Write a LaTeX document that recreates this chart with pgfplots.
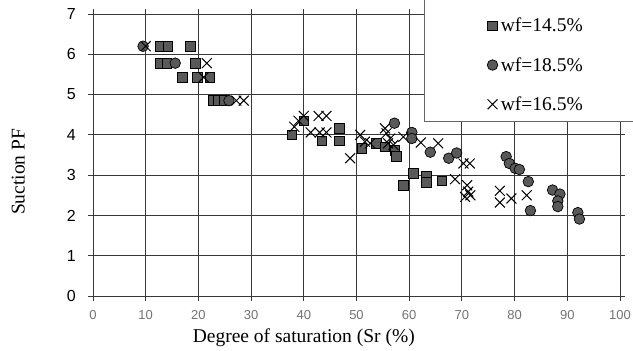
\documentclass[border=0pt]{standalone}
\usepackage{fontspec}
\setmainfont{Liberation Serif}
\setsansfont{Liberation Sans}
\usepackage{pgfplots}
\pgfplotsset{compat=1.18}

\begin{document}
\begin{tikzpicture}
\begin{axis}[
 scale only axis, width=527pt, height=282pt,
 xmin=0, xmax=100, ymin=0, ymax=7,
 xtick={0,10,...,100}, ytick={0,1,...,7},
 clip=false,
 grid=major,
 major grid style={draw=black!78, line width=0.8pt},
 axis line style={draw=black!78, line width=0.8pt},
 tick style={draw=black!78, line width=0.8pt},
 tick align=outside, major tick length=5pt,
 /pgf/number format/assume math mode=true,
 xticklabel style={font=\sffamily\fontsize{13}{13}\selectfont, text=black!55, anchor=center, inner sep=0pt, yshift=-14pt},
 yticklabel style={font=\sffamily\fontsize{16}{16}\selectfont, anchor=east, inner sep=0pt, xshift=-12pt},
 xlabel={Degree of saturation (Sr (\%)},
 ylabel={Suction PF},
 xlabel style={font=\fontsize{19.5}{20}\selectfont, at={(axis description cs:0.4,-0.149)}, anchor=center},
 ylabel style={font=\fontsize{19.5}{20}\selectfont, at={(axis description cs:-0.142,0.44)}, anchor=center},
 legend style={at={(axis description cs:0.742,0.9965)}, anchor=north west, draw=none, fill=none,
   font=\fontsize{19.5}{20}\selectfont, row sep=22pt, nodes={inner sep=1pt},
   /tikz/every odd column/.append style={column sep=2pt}},
 legend image code/.code={\draw[#1] plot coordinates {(0pt,0pt)};},
 legend cell align=left,
]
\addplot[only marks, mark=square*, mark size=4.8pt, mark options={draw=black, fill=black!65, line width=0.7pt}] coordinates {
(12.7,6.2)(14.2,6.2)(18.5,6.2)
(12.7,5.78)(14,5.78)(19.4,5.78)
(17,5.43)(19.8,5.43)(22.2,5.43)
(22.8,4.85)(23.8,4.85)(24.8,4.85)
(37.7,4.0)(40,4.35)(43.4,3.85)(46.7,4.16)(46.7,3.85)
(51,3.66)(53.8,3.79)(55.4,3.7)(57.3,3.62)(57.6,3.46)
(58.9,2.75)(60.8,3.04)(63.3,2.98)(63.3,2.82)(66.2,2.86)
};
\addlegendentry{wf=14.5\%}
\addplot[only marks, mark=*, mark size=5.3pt, mark options={draw=black, fill=black!65, line width=0.7pt}] coordinates {
(9.5,6.2)(15.6,5.78)(25.8,4.85)(57.2,4.29)(60.5,4.06)(60.5,3.91)(64,3.57)(67.5,3.42)(69,3.55)
(78.4,3.46)(79,3.29)(80.1,3.17)(80.9,3.14)(82.6,2.84)(83,2.12)(87.2,2.63)(88.6,2.53)(88.2,2.36)(88.2,2.22)
(92,2.07)(92.3,1.91)
};
\addlegendentry{wf=18.5\%}
\addplot[only marks, mark=x, mark size=7pt, mark options={draw=black, line width=1pt}] coordinates {
(10,6.2)(21.6,5.78)(21,5.43)(27.2,4.85)(28.6,4.85)
(38.2,4.2)(39,4.35)(40,4.47)(42.8,4.47)(44.3,4.47)(41.3,4.06)(43,4.06)(44.3,4.06)(48.8,3.42)
(50.7,4.0)(51.6,3.83)(52.6,3.79)(55.4,4.16)(55.7,4.04)(56.4,3.91)(56,3.79)(57,3.75)(58.9,3.95)
(62.2,3.81)(65.5,3.79)(70.3,3.29)(71.5,3.29)
(68.7,2.9)(71,2.75)(71.2,2.59)(70.6,2.46)(71.6,2.5)
(77.2,2.61)(77.2,2.32)(79.4,2.42)(82.3,2.5)
};
\addlegendentry{wf=16.5\%}
\draw[draw=black!60, fill=white, line width=0.8pt] (axis description cs:0.628,0.618) rectangle (axis description cs:1.1,1.1);
\coordinate (O) at (rel axis cs:0,0);
\end{axis}
\pgfresetboundingbox
\path (O) ++(-93pt,-55pt) rectangle ++(633pt,351pt);
\end{tikzpicture}
\end{document}
